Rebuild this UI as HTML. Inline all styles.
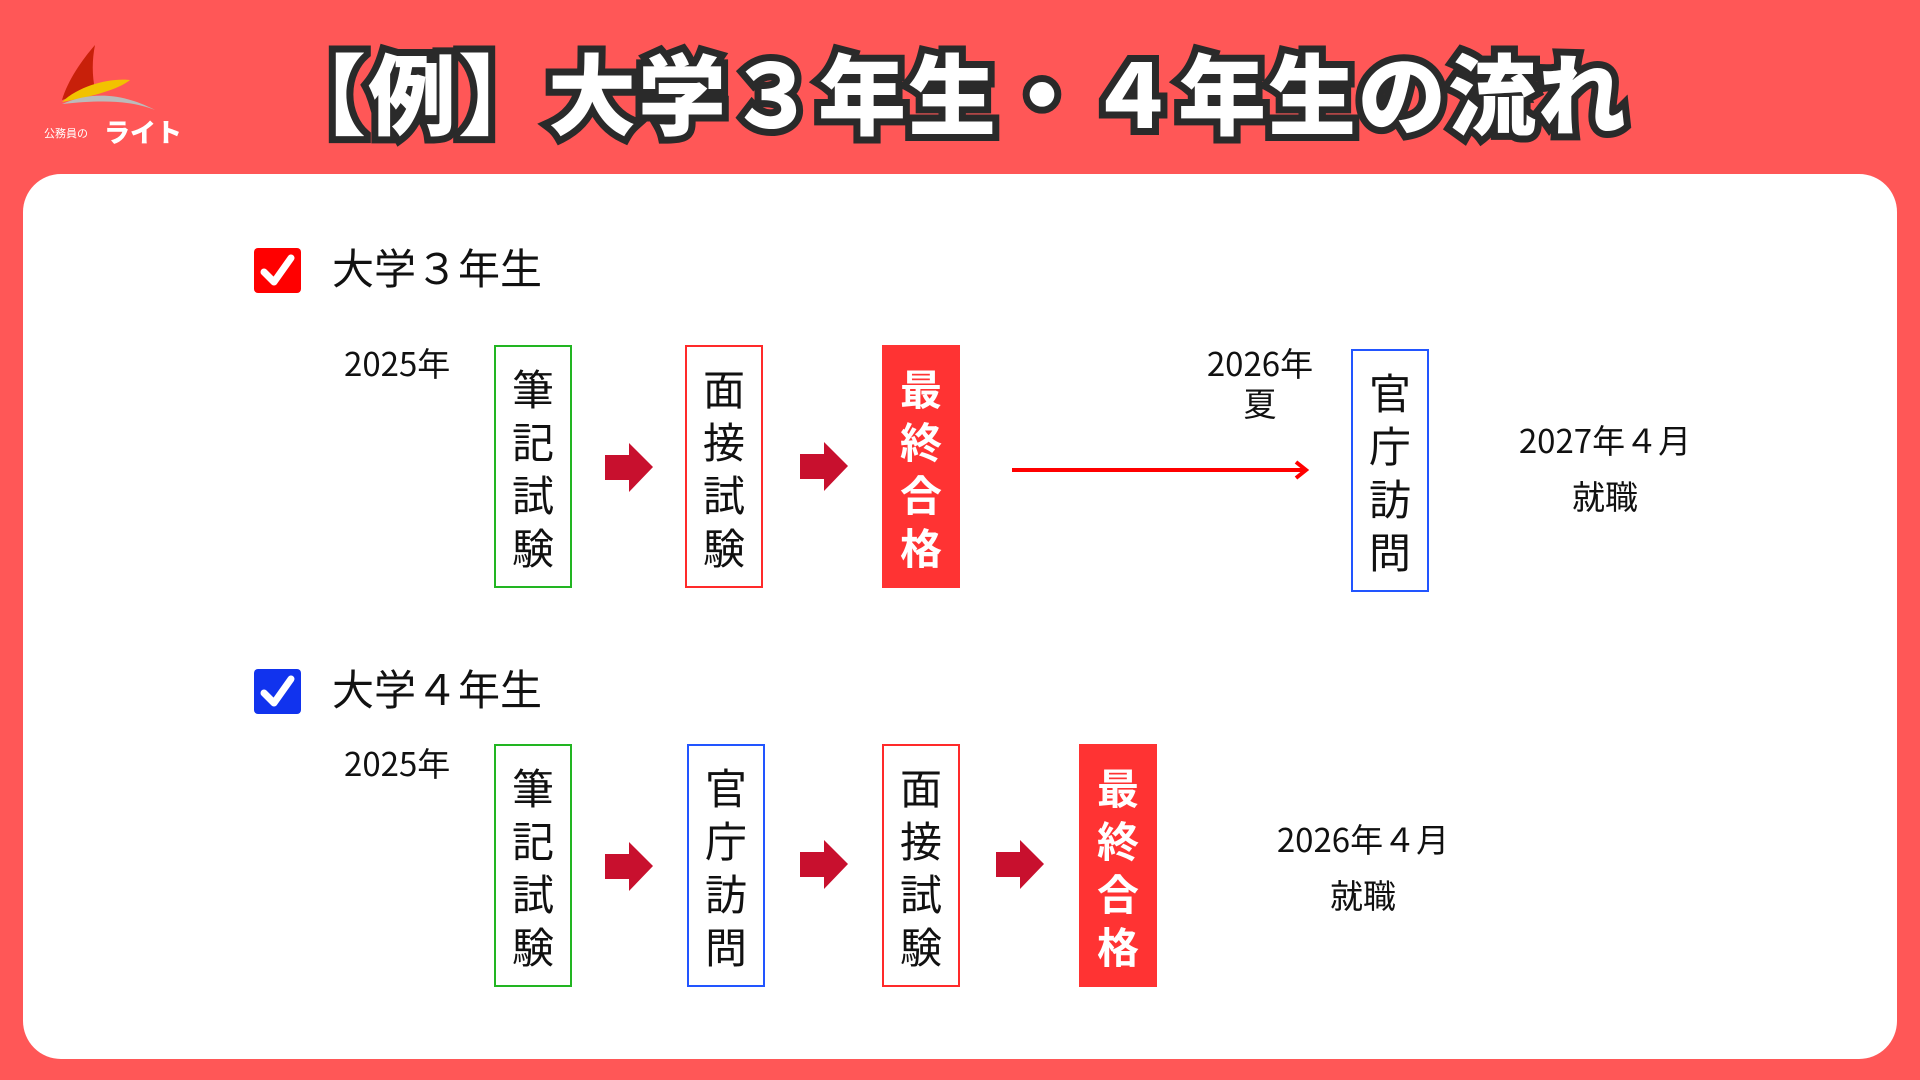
<!DOCTYPE html>
<html><head><meta charset="utf-8"><style>
*{margin:0;padding:0;box-sizing:border-box}
body{width:1920px;height:1080px;background:#FF5757;position:relative;overflow:hidden;font-family:"Liberation Sans","Noto Sans CJK JP",sans-serif;color:#111}
.panel{position:absolute;left:23px;top:174px;width:1874px;height:885px;background:#fff;border-radius:38px}
.title{position:absolute;left:263px;top:36px;width:1380px;text-align:center;font-size:88px;font-weight:900;color:#fff;-webkit-text-stroke:14px #2a2a2a;paint-order:stroke fill;letter-spacing:2px;line-height:110px;font-family:"Noto Sans CJK JP",sans-serif}
.a{position:absolute}
.box{position:absolute;width:78px;height:243px;display:flex;flex-direction:column;align-items:center;justify-content:center;font-size:42px;line-height:53px;font-family:"Noto Sans CJK JP",sans-serif}
.g{border:2px solid #22b522}.r{border:2px solid #ff2a2a}.b{border:2px solid #2255ff}
.f{background:#FF3333;color:#fff;font-weight:700}
.t{position:absolute;font-size:33px;text-align:center;line-height:40px;font-family:"Noto Sans CJK JP",sans-serif}
.h{position:absolute;font-size:42px;line-height:54px;font-family:"Noto Sans CJK JP",sans-serif}
.cb{position:absolute;width:47px;height:45px;border-radius:4px}
</style></head><body>
<svg class="a" style="left:40px;top:40px" width="150" height="110" viewBox="0 0 150 110">
<path d="M55 5 C42 20 28 40 22 60 L55 50 C52 35 52 20 55 5Z" fill="#c8200a"/>
<path d="M22 62 C40 45 70 38 90 40 C80 48 60 55 22 62Z" fill="#f2c200"/>
<path d="M22 64 C50 52 80 52 115 70 C90 60 60 60 22 64Z" fill="#bbb"/>
<text x="4" y="97" font-size="11" fill="#fff" font-family="Noto Sans CJK JP">公務員の</text>
<text x="64" y="102" font-size="26" font-weight="900" fill="#fff" font-family="Noto Sans CJK JP">ライト</text>
</svg>
<div class="title">【例】大学３年生・４年生の流れ</div>
<div class="panel"></div>

<div class="cb" style="left:254px;top:248px;background:#f00"></div>
<svg class="a" style="left:254px;top:248px" width="47" height="45"><path d="M10 24 L20 34 L37 10" stroke="#fff" stroke-width="7" fill="none" stroke-linecap="round" stroke-linejoin="round"/></svg>
<div class="h" style="left:332px;top:240px">大学３年生</div>
<div class="t" style="left:344px;top:342px">2025年</div>
<div class="box g" style="left:494px;top:345px"><span>筆</span><span>記</span><span>試</span><span>験</span></div>
<div class="box r" style="left:685px;top:345px"><span>面</span><span>接</span><span>試</span><span>験</span></div>
<div class="box f" style="left:882px;top:345px"><span>最</span><span>終</span><span>合</span><span>格</span></div>
<svg class="a" style="left:1010px;top:455px" width="300" height="30"><line x1="2" y1="15" x2="295" y2="15" stroke="#f00" stroke-width="4"/><path d="M286 7 L296 15 L286 23" stroke="#f00" stroke-width="4" fill="none"/></svg>
<div class="t" style="left:1195px;top:342px;width:130px">2026年<br>夏</div>
<div class="box b" style="left:1351px;top:349px"><span>官</span><span>庁</span><span>訪</span><span>問</span></div>
<div class="t" style="left:1505px;top:411px;width:200px;line-height:56px">2027年４月<br>就職</div>

<div class="cb" style="left:254px;top:669px;background:#1133ee"></div>
<svg class="a" style="left:254px;top:669px" width="47" height="45"><path d="M10 24 L20 34 L37 10" stroke="#fff" stroke-width="7" fill="none" stroke-linecap="round" stroke-linejoin="round"/></svg>
<div class="h" style="left:332px;top:661px">大学４年生</div>
<div class="t" style="left:344px;top:742px">2025年</div>
<div class="box g" style="left:494px;top:744px"><span>筆</span><span>記</span><span>試</span><span>験</span></div>
<div class="box b" style="left:687px;top:744px"><span>官</span><span>庁</span><span>訪</span><span>問</span></div>
<div class="box r" style="left:882px;top:744px"><span>面</span><span>接</span><span>試</span><span>験</span></div>
<div class="box f" style="left:1079px;top:744px"><span>最</span><span>終</span><span>合</span><span>格</span></div>
<div class="t" style="left:1263px;top:810px;width:200px;line-height:56px">2026年４月<br>就職</div>

<svg class="a" style="left:0;top:0" width="1920" height="1080">
<g fill="#C8102E">
<path d="M605 455 h24 v-12 l24 24 l-24 25 v-12 h-24z"/>
<path d="M800 454 h24 v-12 l24 24 l-24 25 v-12 h-24z"/>
<path d="M605 854 h24 v-12 l24 24 l-24 25 v-12 h-24z"/>
<path d="M800 852 h24 v-12 l24 24 l-24 25 v-12 h-24z"/>
<path d="M996 852 h24 v-12 l24 24 l-24 25 v-12 h-24z"/>
</g></svg>
</body></html>
